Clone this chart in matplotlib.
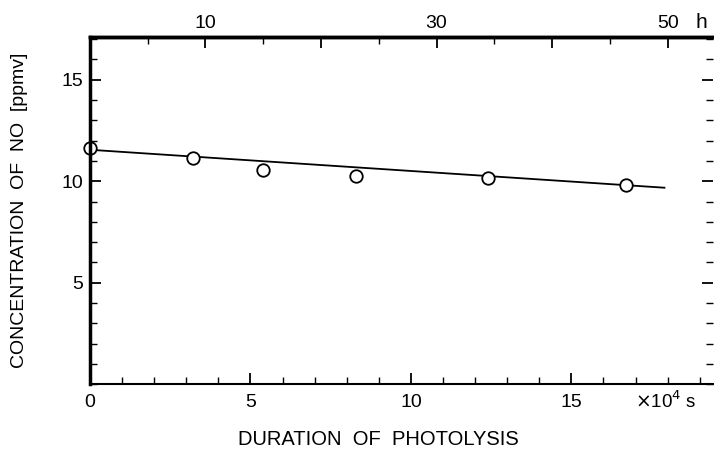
import numpy as np
import matplotlib.pyplot as plt
from matplotlib.ticker import MultipleLocator

plt.rcParams['font.family'] = ['Liberation Sans', 'DejaVu Sans']

# measured NO concentration vs photolysis time (x10^4 s)
t_obs = [0.0, 3.2, 5.4, 8.3, 12.4, 16.7]
no_obs = [11.65, 11.15, 10.56, 10.27, 10.17, 9.83]
# fitted line end points
t_fit = [0.0, 17.9]
no_fit = [11.55, 9.68]
# top axis in hours
hour_major = [10, 20, 30, 40, 50]
hour_labels = ['10', '', '30', '', '50']
hour_minor = [5, 15, 25, 35, 45]

fig = plt.figure(figsize=(7.14, 4.53), dpi=100)
ax = fig.add_axes([0.126, 0.152, 0.872, 0.766])

ax.plot(t_fit, no_fit, color='black', lw=1.3)
ax.plot(t_obs, no_obs, 'o', mfc='white', mec='black', mew=1.3, ms=9, clip_on=False)

ax.set_xlim(0, 19.4)
ax.set_ylim(0, 17.1)
ax.xaxis.set_minor_locator(MultipleLocator(1))
ax.yaxis.set_minor_locator(MultipleLocator(1))
ax.set_xticks([0, 5, 10, 15])
ax.set_yticks([5, 10, 15])
ax.tick_params(which='both', direction='in', top=False, right=True, labelsize=14)
ax.tick_params(which='major', length=8, width=1.3)
ax.tick_params(which='minor', length=5, width=1)
ax.tick_params(axis='x', pad=7)
ax.tick_params(axis='y', pad=5)

for s in ['left', 'top']:
    ax.spines[s].set_linewidth(2.5)
ax.spines['bottom'].set_linewidth(1.5)
ax.spines['right'].set_visible(False)

# hours on the top axis
sec = ax.secondary_xaxis('top', functions=(lambda x: x / 0.36, lambda h: h * 0.36))
sec.set_xticks(hour_major)
sec.set_xticklabels(hour_labels)
sec.xaxis.set_minor_locator(plt.FixedLocator(hour_minor))
sec.tick_params(which='both', direction='in', labelsize=14, pad=4)
sec.tick_params(which='major', length=8, width=1.3)
sec.tick_params(which='minor', length=5, width=1)
sec.spines['top'].set_linewidth(2.5)

fig.text(0.982, 0.93, 'h', fontsize=15, ha='center', va='bottom')
fig.text(0.933, 0.115, r'$\times$10$^4$ s', fontsize=13.5, ha='center', va='center')
fig.text(0.53, 0.03, 'DURATION  OF  PHOTOLYSIS', fontsize=14.5, ha='center', va='center')
fig.text(0.028, 0.535, 'CONCENTRATION  OF  NO  [ppmv]', fontsize=14, rotation=90,
         ha='center', va='center')

fig.savefig('out.png', dpi=100)
